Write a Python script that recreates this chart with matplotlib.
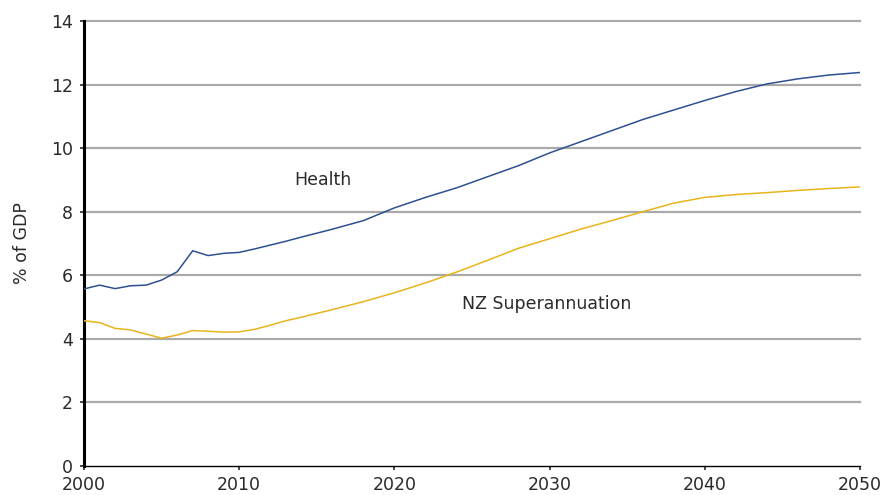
import numpy as np
import matplotlib.pyplot as plt

plt.rcParams['font.family'] = ['DejaVu Sans']

# values, % of GDP
years_early = list(range(2000, 2015))
health_early = [5.57, 5.69, 5.58, 5.67, 5.69, 5.85, 6.11, 6.77, 6.62, 6.69, 6.72,
                6.83, 6.95, 7.07, 7.2]
super_early = [4.57, 4.51, 4.33, 4.28, 4.15, 4.02, 4.12, 4.26, 4.24, 4.21, 4.22,
               4.30, 4.43, 4.57, 4.68]

years_late = [2016, 2018, 2020, 2022, 2024, 2026, 2028, 2030, 2032, 2034, 2036,
              2038, 2040, 2042, 2044, 2046, 2048, 2050]
health_late = [7.45, 7.72, 8.12, 8.45, 8.75, 9.1, 9.45, 9.85, 10.2, 10.55, 10.9,
               11.2, 11.5, 11.78, 12.02, 12.18, 12.3, 12.38]
super_late = [4.92, 5.17, 5.45, 5.76, 6.1, 6.47, 6.85, 7.15, 7.45, 7.72, 8.0,
              8.27, 8.45, 8.54, 8.6, 8.67, 8.73, 8.78]

years = years_early + years_late
health = health_early + health_late
superann = super_early + super_late

fs = 12.5
txt = '#2a2a2a'

fig = plt.figure(figsize=(8.94, 4.95), dpi=100)
ax = fig.add_axes([0.094, 0.0586, 0.868, 0.899])

for y in range(2, 16, 2):
    ax.axhline(y, color='#aaaaaa', lw=1.6, zorder=1, clip_on=False)

ax.plot(years, health, color='#2d5190', lw=1.1, zorder=3)
ax.plot(years, superann, color='#e8b41c', lw=1.1, zorder=3)

ax.text(2015.4, 9.0, 'Health', ha='center', va='center', fontsize=fs, color=txt)
ax.text(2029.8, 5.1, 'NZ Superannuation', ha='center', va='center', fontsize=fs,
        color=txt)

ax.set_xlim(2000, 2050)
ax.set_ylim(0, 14)
ax.set_xticks(range(2000, 2051, 10))
ax.set_yticks(range(0, 15, 2))
ax.tick_params(axis='both', labelsize=fs, colors=txt, length=3, width=1.2)
ax.tick_params(axis='x', pad=4)
ax.tick_params(axis='y', pad=5)
ax.set_ylabel('% of GDP', fontsize=fs, color=txt, labelpad=14)

for s in ['top', 'right']:
    ax.spines[s].set_visible(False)
ax.spines['left'].set_linewidth(2.2)
ax.spines['bottom'].set_linewidth(1.0)

fig.savefig('out.png', dpi=100)
